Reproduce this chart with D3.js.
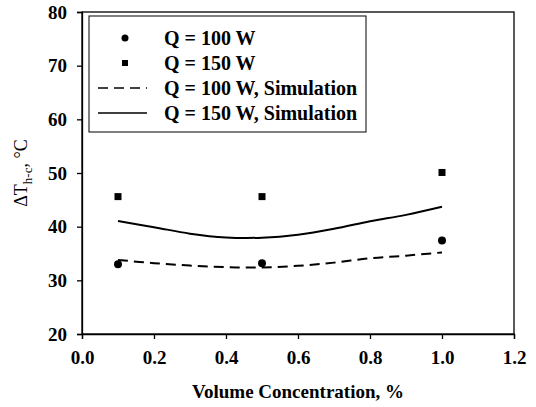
<!DOCTYPE html>
<html>
<head>
<meta charset="utf-8">
<script src="https://cdn.jsdelivr.net/npm/d3@7"></script>
<style>
  body { margin: 0; background: #fff; }
  text { font-family: "Liberation Serif", "Times New Roman", serif; fill: #000; }
</style>
</head>
<body>
<div id="viz"></div>
<script>
var w = 536, h = 407;
var margin = {left: 82, right: 22, top: 12, bottom: 73};

// measured points
var expX = [0.1, 0.5, 1.0];
var exp100 = [33.0, 33.2, 37.4];
var exp150 = [45.6, 45.6, 50.1];

// simulation curves
var simX = [0.1, 0.2, 0.3, 0.4, 0.5, 0.6, 0.7, 0.8, 0.9, 1.0];
var sim100 = [33.8, 33.2, 32.75, 32.45, 32.4, 32.7, 33.3, 34.1, 34.6, 35.2];
var sim150 = [41.05, 39.9, 38.7, 38.0, 37.95, 38.5, 39.6, 41.0, 42.2, 43.7];

var xTicks = [0, 0.2, 0.4, 0.6, 0.8, 1.0, 1.2];
var yTicks = [20, 30, 40, 50, 60, 70, 80];
var legendLabels = ["Q = 100 W", "Q = 150 W", "Q = 100 W, Simulation", "Q = 150 W, Simulation"];

var svg = d3.select("#viz").append("svg")
  .attr("width", w)
  .attr("height", h);

var x = d3.scaleLinear().domain([0, 1.2]).range([margin.left, w - margin.right]);
var y = d3.scaleLinear().domain([20, 80]).range([h - margin.bottom, margin.top]);

// frame
svg.append("rect")
  .attr("x", x(0)).attr("y", y(80))
  .attr("width", x(1.2) - x(0)).attr("height", y(20) - y(80))
  .attr("fill", "none").attr("stroke", "#000").attr("stroke-width", 1.3);

var xAxis = svg.append("g")
  .attr("transform", "translate(0," + y(20) + ")")
  .call(d3.axisBottom(x).tickValues(xTicks).tickFormat(d3.format(".1f")).tickSize(5).tickPadding(12));
var yAxis = svg.append("g")
  .attr("transform", "translate(" + x(0) + ",0)")
  .call(d3.axisLeft(y).tickValues(yTicks).tickSize(5).tickPadding(10));

[xAxis, yAxis].forEach(function(g) {
  g.attr("font-family", '"Liberation Serif", serif')
    .attr("font-size", 19)
    .attr("font-weight", "bold");
  g.select(".domain").attr("stroke", "#000").attr("stroke-width", 1.3);
  g.selectAll(".tick line").attr("stroke", "#000").attr("stroke-width", 1.3);
  g.selectAll(".tick text").attr("fill", "#000");
});

// axis titles
svg.append("text")
  .attr("x", (x(0) + x(1.2)) / 2)
  .attr("y", 398)
  .attr("text-anchor", "middle")
  .style("font-size", "19px")
  .style("font-weight", "bold")
  .text("Volume Concentration, %");

var yt = svg.append("text")
  .attr("transform", "translate(27," + ((y(20) + y(80)) / 2) + ") rotate(-90)")
  .attr("text-anchor", "middle")
  .style("font-size", "18px");
yt.append("tspan").text("\u0394T");
yt.append("tspan").attr("dy", 5).style("font-size", "13px").text("h-c");
yt.append("tspan").attr("dy", -5).text(", \u00b0C");

// simulation lines
var line = function(vals) {
  return d3.line()
    .x(function(d, i) { return x(simX[i]); })
    .y(function(d) { return y(d); })
    .curve(d3.curveCatmullRom)(vals);
};

svg.append("path")
  .attr("d", line(sim100))
  .attr("fill", "none").attr("stroke", "#000").attr("stroke-width", 2)
  .attr("stroke-dasharray", "10,6");
svg.append("path")
  .attr("d", line(sim150))
  .attr("fill", "none").attr("stroke", "#000").attr("stroke-width", 2);

// experiment markers
svg.selectAll("circle.exp")
  .data(exp100)
  .enter().append("circle")
  .attr("class", "exp")
  .attr("cx", function(d, i) { return x(expX[i]); })
  .attr("cy", function(d) { return y(d); })
  .attr("r", 4)
  .attr("fill", "#000");

svg.selectAll("rect.exp")
  .data(exp150)
  .enter().append("rect")
  .attr("class", "exp")
  .attr("x", function(d, i) { return x(expX[i]) - 3.5; })
  .attr("y", function(d) { return y(d) - 3.5; })
  .attr("width", 7).attr("height", 7)
  .attr("fill", "#000");

// legend
var lg = svg.append("g");
lg.append("rect")
  .attr("x", 89).attr("y", 16)
  .attr("width", 277).attr("height", 116)
  .attr("fill", "#fff").attr("stroke", "#000").attr("stroke-width", 1);

legendLabels.forEach(function(label, i) {
  var cy = 38 + i * 25;
  if (i == 0) {
    lg.append("circle").attr("cx", 125).attr("cy", cy).attr("r", 3.5).attr("fill", "#000");
  } else if (i == 1) {
    lg.append("rect").attr("x", 122).attr("y", cy - 3).attr("width", 6).attr("height", 6).attr("fill", "#000");
  } else {
    lg.append("line")
      .attr("x1", 98).attr("x2", 147).attr("y1", cy).attr("y2", cy)
      .attr("stroke", "#000").attr("stroke-width", 1.5)
      .attr("stroke-dasharray", i == 2 ? "10,6" : null);
  }
  lg.append("text")
    .attr("x", 164).attr("y", cy + 7)
    .style("font-size", "20px")
    .style("font-weight", "bold")
    .text(label);
});
</script>
</body>
</html>
